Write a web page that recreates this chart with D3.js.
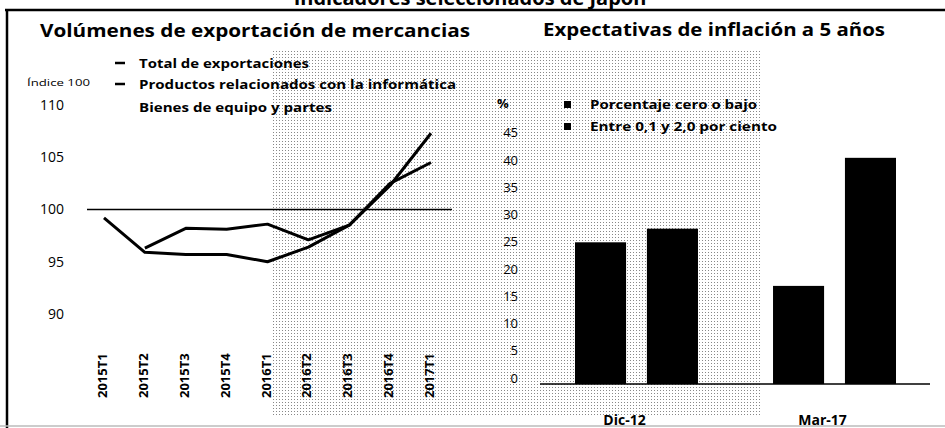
<!DOCTYPE html>
<head>
  <meta charset="utf-8">
  <script src="https://d3js.org/d3.v7.min.js"></script>
  <style>
  body{ margin: 0; background: #fff; }
  text{ font-family: "Open Sans", "Noto Sans", sans-serif; fill: #000; }
  .title{ font-weight: 700; font-size: 18px; }
  .legend{ font-weight: 700; font-size: 12px; }
  .line{ fill: none; stroke: #000; stroke-width: 3px; stroke-linejoin: round; }
  .tick text{ font-size: 13px; }
  </style>
</head>

<body>
  <script>
    // data for the left panel (index, 2015T1 = 100)
    var categories = ["2015T1", "2015T2", "2015T3", "2015T4", "2016T1", "2016T2", "2016T3", "2016T4", "2017T1"];
    var totalExport = [99.2, 95.9, 95.7, 95.7, 95.0, 96.4, 98.5, 102.3, 107.3];
    var informatica = [null, 96.3, 98.2, 98.1, 98.6, 97.1, 98.5, 102.5, 104.5];
    var lineNames = ["Total de exportaciones", "Productos relacionados con la informática", "Bienes de equipo y partes"];
    var leftTicks = [90, 95, 100, 105, 110];

    // data for the right panel (%)
    var groups = ["Dic-12", "Mar-17"];
    var barNames = ["Porcentaje cero o bajo", "Entre 0,1 y 2,0 por ciento"];
    var zeroOrLow = [26, 18];
    var lowRange = [28.5, 41.5];
    var rightTicks = [0, 5, 10, 15, 20, 25, 30, 35, 40, 45];

    var width = 945, height = 428;

    var svg = d3.select("body")
        .append("svg")
        .attr("width", width)
        .attr("height", height);

    // halftone background of the scan
    var pat = svg.append("defs").append("pattern")
        .attr("id", "dots")
        .attr("width", 3).attr("height", 3)
        .attr("patternUnits", "userSpaceOnUse");
    pat.append("rect").attr("width", 1).attr("height", 1).attr("fill", "#888");
    svg.append("rect")
        .attr("x", 272).attr("y", 50)
        .attr("width", 490).attr("height", 366)
        .attr("fill", "url(#dots)");

    // frame: cut-off heading, top rule, left rule, bottom edge
    svg.append("text")
        .attr("class", "title")
        .attr("x", 470).attr("y", 5)
        .attr("text-anchor", "middle")
        .style("font-size", "20px")
        .text("Indicadores seleccionados de Japón");
    svg.append("line").attr("x1", 5).attr("x2", width).attr("y1", 10).attr("y2", 10)
        .attr("stroke", "#000").attr("stroke-width", 2.5);
    svg.append("line").attr("x1", 7).attr("x2", 7).attr("y1", 10).attr("y2", height)
        .attr("stroke", "#000").attr("stroke-width", 2.5);
    svg.append("line").attr("x1", 0).attr("x2", width).attr("y1", 426).attr("y2", 426)
        .attr("stroke", "#bbb").attr("stroke-width", 1.5);

    // ---------- left panel ----------
    svg.append("text")
        .attr("class", "title")
        .attr("x", 40).attr("y", 37)
        .attr("textLength", 430).attr("lengthAdjust", "spacingAndGlyphs")
        .text("Volúmenes de exportación de mercancias");

    var xScale = d3.scalePoint()
        .domain(categories)
        .range([104, 431]);

    var yScale = d3.scaleLinear()
        .domain([90, 110])
        .range([314, 105]);

    // legend
    var legendLeft = [
      {name: lineNames[0], y: 68, len: 170, mark: true},
      {name: lineNames[1], y: 89, len: 317, mark: true},
      {name: lineNames[2], y: 112, len: 193, mark: false}
    ];
    legendLeft.forEach(function(d) {
      if (d.mark) {
        svg.append("line").attr("x1", 115).attr("x2", 125)
            .attr("y1", d.y - 5).attr("y2", d.y - 5)
            .attr("stroke", "#000").attr("stroke-width", 2.5);
      }
      svg.append("text").attr("class", "legend")
          .attr("x", 139).attr("y", d.y)
          .attr("textLength", d.len).attr("lengthAdjust", "spacingAndGlyphs")
          .text(d.name);
    });

    svg.append("text")
        .attr("x", 27).attr("y", 86)
        .style("font-size", "9px")
        .attr("textLength", 63).attr("lengthAdjust", "spacingAndGlyphs")
        .text("Índice 100");

    // y axis
    var yAxisL = svg.append("g")
        .attr("transform", "translate(67,0)")
        .call(d3.axisLeft(yScale).tickValues(leftTicks).tickSize(0).tickPadding(3));
    yAxisL.select(".domain").remove();
    yAxisL.selectAll("text").style("font-size", "14px");

    // x axis with rotated labels
    var xAxisL = svg.append("g")
        .attr("transform", "translate(-2,398)")
        .call(d3.axisBottom(xScale).tickSize(0));
    xAxisL.select(".domain").remove();
    xAxisL.selectAll("text")
        .attr("transform", "rotate(-90)")
        .attr("text-anchor", "start")
        .attr("x", 0).attr("y", 0)
        .attr("dy", "0.35em")
        .style("font-size", "13px")
        .style("font-weight", "700");

    // reference line at 100
    svg.append("line")
        .attr("x1", 87).attr("x2", 452)
        .attr("y1", yScale(100)).attr("y2", yScale(100))
        .attr("stroke", "#000").attr("stroke-width", 1.5);

    var line = d3.line()
        .defined(function(d) { return d.v != null; })
        .x(function(d) { return xScale(d.c); })
        .y(function(d) { return yScale(d.v); });

    [totalExport, informatica].forEach(function(series) {
      svg.append("path")
          .datum(series.map(function(v, i) { return {c: categories[i], v: v}; }))
          .attr("class", "line")
          .attr("d", line);
    });

    // ---------- right panel ----------
    svg.append("text")
        .attr("class", "title")
        .attr("x", 543).attr("y", 36)
        .attr("textLength", 342).attr("lengthAdjust", "spacingAndGlyphs")
        .text("Expectativas de inflación a 5 años");

    var x0 = d3.scaleBand()
        .domain(groups)
        .range([575, 896])
        .paddingInner(0.379);

    var x1 = d3.scaleBand()
        .domain(barNames)
        .range([0, x0.bandwidth()])
        .paddingInner(0.29);

    var yBar = d3.scaleLinear()
        .domain([0, 45])
        .range([384, 384 - 45 * 5.45]);

    svg.append("text")
        .attr("x", 497).attr("y", 108)
        .style("font-size", "13px").style("font-weight", "700")
        .text("%");

    var yAxisR = svg.append("g")
        .attr("transform", "translate(521,-6)")
        .call(d3.axisLeft(yBar).tickValues(rightTicks).tickSize(0).tickPadding(3));
    yAxisR.select(".domain").remove();
    yAxisR.selectAll("text").style("font-size", "13px");

    // legend
    barNames.forEach(function(name, i) {
      var ly = 105 + i * 22;
      svg.append("rect").attr("x", 564).attr("y", ly - 4)
          .attr("width", 7).attr("height", 7).attr("fill", "#000");
      svg.append("text").attr("class", "legend")
          .attr("x", 590).attr("y", ly + 4)
          .attr("textLength", i === 0 ? 167 : 187).attr("lengthAdjust", "spacingAndGlyphs")
          .text(name);
    });

    // bars
    var barSeries = [zeroOrLow, lowRange];
    groups.forEach(function(g, gi) {
      barNames.forEach(function(name, si) {
        var v = barSeries[si][gi];
        svg.append("rect")
            .attr("x", x0(g) + x1(name))
            .attr("y", yBar(v))
            .attr("width", x1.bandwidth())
            .attr("height", yBar(0) - yBar(v))
            .attr("fill", "#000");
      });
    });

    // baseline
    svg.append("line")
        .attr("x1", 540).attr("x2", 930)
        .attr("y1", yBar(0)).attr("y2", yBar(0))
        .attr("stroke", "#000").attr("stroke-width", 1.5);

    // category labels
    var xAxisR = svg.append("g")
        .attr("transform", "translate(-12,412)")
        .call(d3.axisBottom(x0).tickSize(0));
    xAxisR.select(".domain").remove();
    xAxisR.selectAll("text")
        .style("font-size", "14px")
        .style("font-weight", "700");
  </script>
</body>
